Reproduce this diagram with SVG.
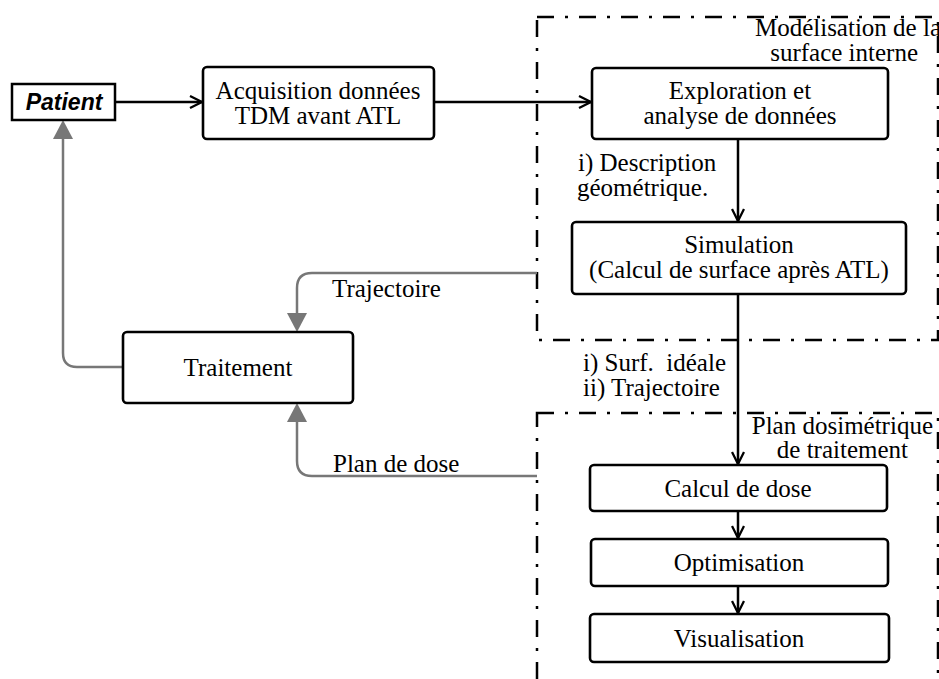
<svg xmlns="http://www.w3.org/2000/svg" width="939" height="679" viewBox="0 0 939 679">
<style>
.box{fill:#fff;stroke:#000;stroke-width:2.6}
.grp{fill:none;stroke:#000;stroke-width:2.5;stroke-dasharray:17 11 3 11}
.t{font-family:"Liberation Serif","Times New Roman",serif;font-size:25px;fill:#000}
.c{text-anchor:middle}
.r{text-anchor:end}
.blk{fill:none;stroke:#000;stroke-width:2.5}
.gry{fill:none;stroke:#777;stroke-width:2.5}
</style>
<defs>
<marker id="open" viewBox="0 0 14 14" refX="13" refY="7" markerWidth="14" markerHeight="14" markerUnits="userSpaceOnUse" orient="auto">
<polyline points="1,1 13,7 1,13" fill="none" stroke="#000" stroke-width="2.3"/>
</marker>
</defs>
<rect width="939" height="679" fill="#fff"/>

<g id="group-modelisation">
<rect class="grp" x="537" y="17" width="401" height="323"/>
<text class="t r" x="941" y="36">Modélisation de la</text>
<text class="t r" x="918" y="61">surface interne</text>
</g>
<g id="group-plan">
<rect class="grp" x="537" y="413" width="401" height="320"/>
<text class="t r" x="933" y="434">Plan dosimétrique</text>
<text class="t r" x="908" y="458">de traitement</text>
</g>

<g id="connectors">
<line class="blk" x1="115" y1="102" x2="202" y2="102" marker-end="url(#open)"/>
<line class="blk" x1="434" y1="102" x2="591" y2="102" marker-end="url(#open)"/>
<line class="blk" x1="738" y1="139" x2="738" y2="221" marker-end="url(#open)"/>
<line class="blk" x1="738" y1="294" x2="738" y2="464" marker-end="url(#open)"/>
<line class="blk" x1="738" y1="511" x2="738" y2="538" marker-end="url(#open)"/>
<line class="blk" x1="738" y1="586" x2="738" y2="613" marker-end="url(#open)"/>
<path class="gry" d="M537,273 H312 Q297,273 297,288 V314" />
<polygon points="287,313 307,313 297,332" fill="#777"/>
<path class="gry" d="M537,476 H312 Q297,476 297,461 V421" />
<polygon points="287,422 307,422 297,403" fill="#777"/>
<path class="gry" d="M123,367 H77 Q63,367 63,353 V138" />
<polygon points="53,139 73,139 63,120" fill="#777"/>
<text class="t" x="332" y="297">Trajectoire</text>
<text class="t" x="333" y="472">Plan de dose</text>
<text class="t" x="578" y="171">i) Description</text>
<text class="t" x="577" y="196">géométrique.</text>
<text class="t" x="583" y="371" xml:space="preserve">i) Surf.  idéale</text>
<text class="t" x="583" y="396">ii) Trajectoire</text>
</g>

<g id="patient">
<rect x="12" y="84" width="103" height="36" fill="#fff" stroke="#000" stroke-width="2.5"/>
<text x="64" y="110" text-anchor="middle" font-family="'Liberation Sans',Arial,sans-serif" font-size="23" font-weight="bold" font-style="italic">Patient</text>
</g>
<g id="acquisition">
<rect class="box" x="203" y="67" width="231" height="72" rx="4"/>
<text class="t c" x="318" y="99">Acquisition données</text>
<text class="t c" x="318" y="124">TDM avant ATL</text>
</g>
<g id="exploration">
<rect class="box" x="592" y="68" width="296" height="71" rx="4"/>
<text class="t c" x="740" y="99">Exploration et</text>
<text class="t c" x="740" y="124">analyse de données</text>
</g>
<g id="simulation">
<rect class="box" x="572" y="222" width="334" height="72" rx="4"/>
<text class="t c" x="739" y="253">Simulation</text>
<text class="t c" x="739" y="278">(Calcul de surface après ATL)</text>
</g>
<g id="traitement">
<rect class="box" x="123" y="332" width="230" height="71" rx="4"/>
<text class="t c" x="238" y="376">Traitement</text>
</g>
<g id="calcul-dose">
<rect class="box" x="590" y="465" width="297" height="46" rx="4"/>
<text class="t c" x="738" y="497">Calcul de dose</text>
</g>
<g id="optimisation">
<rect class="box" x="591" y="539" width="297" height="47" rx="4"/>
<text class="t c" x="739" y="571">Optimisation</text>
</g>
<g id="visualisation">
<rect class="box" x="590" y="614" width="299" height="48" rx="4"/>
<text class="t c" x="739" y="647">Visualisation</text>
</g>
</svg>
